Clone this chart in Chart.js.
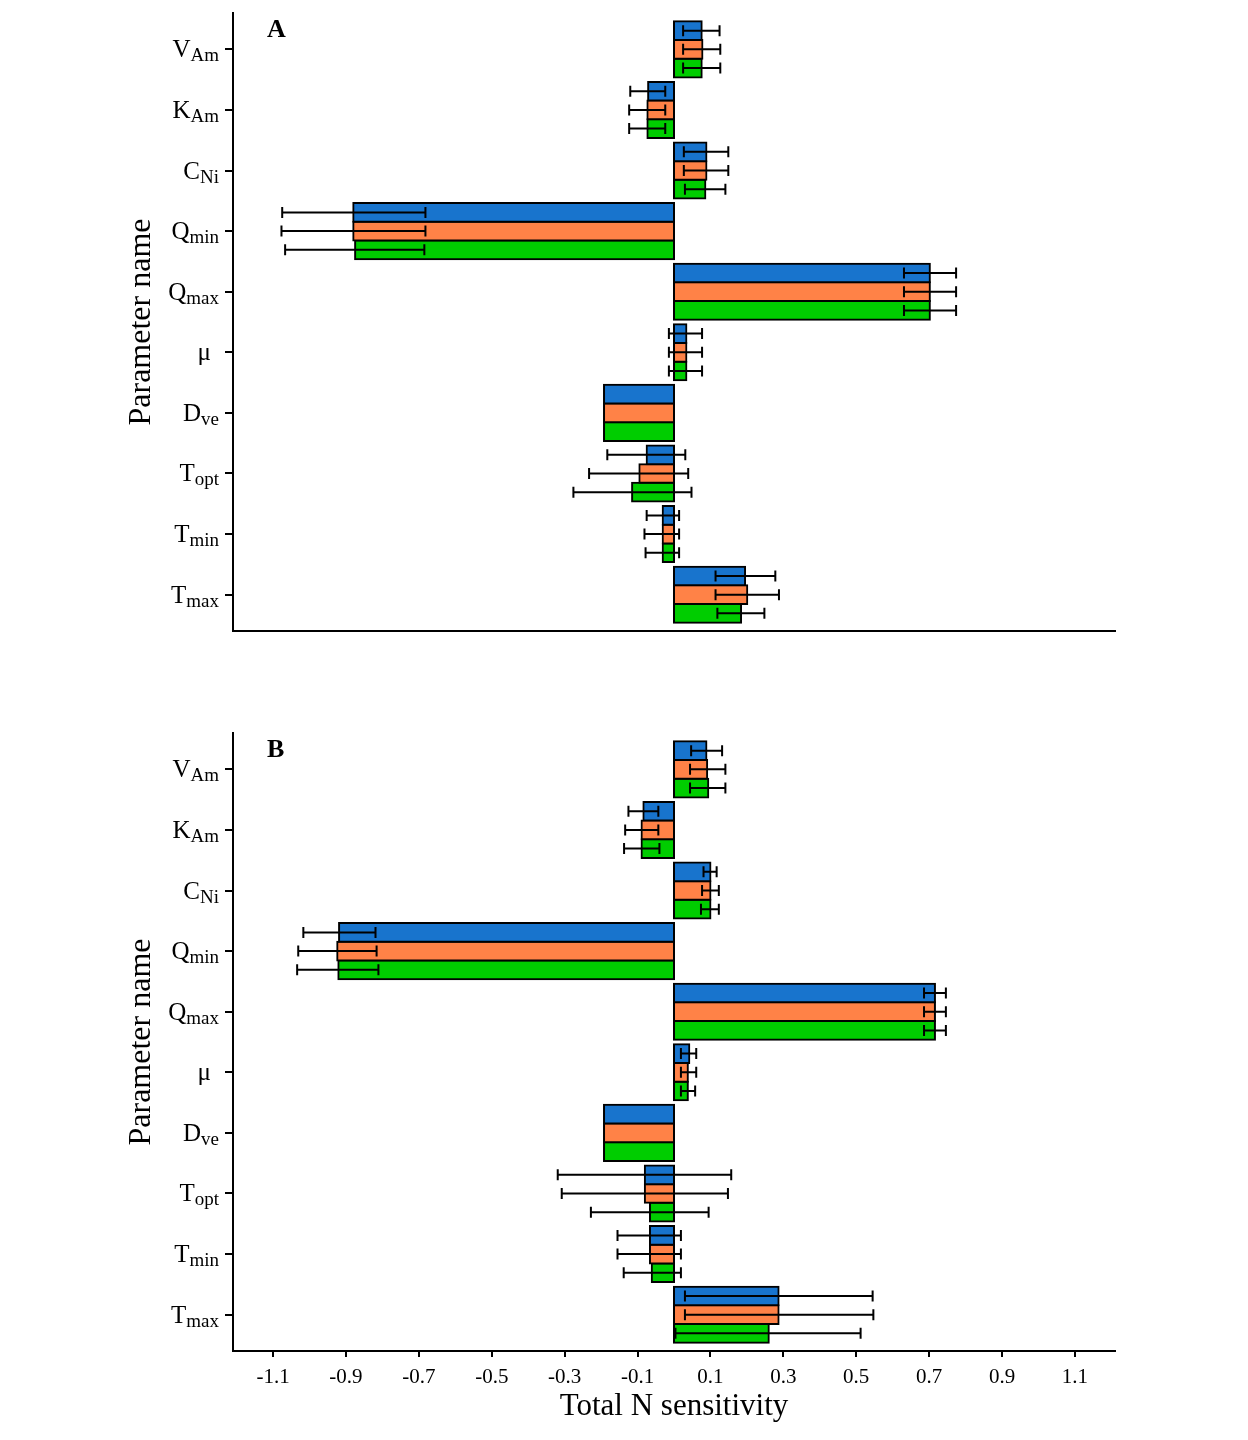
<!DOCTYPE html>
<html lang="en">
  <head>
    <title>Total N sensitivity</title>
    <style>
      body { margin: 0; background: #fff; }
      .panel { position: relative; width: 1248px; height: 720px; }
    </style>
  </head>
  <body>
    <div class="panel"><canvas id="panelA"></canvas></div>
    <div class="panel"><canvas id="panelB"></canvas></div>
    <script src="https://cdn.jsdelivr.net/npm/chart.js"></script>
    <script>
      // parameters, top to bottom: symbol + subscript
      const paramNames = ["V", "K", "C", "Q", "Q", "μ", "D", "T", "T", "T"];
      const paramSubs = ["Am", "Am", "Ni", "min", "max", "", "ve", "opt", "min", "max"];
      const xTicks = [-1.1, -0.9, -0.7, -0.5, -0.3, -0.1, 0.1, 0.3, 0.5, 0.7, 0.9, 1.1];
      const seriesLabels = ["Series 1", "Series 2", "Series 3"];

      // panel A
      const aBlue = [0.076, -0.071, 0.089, -0.880, 0.702, 0.034, -0.192, -0.075, -0.031, 0.195];
      const aBlueLo = [0.025, -0.120, 0.027, -1.075, 0.631, -0.014, null, -0.183, -0.075, 0.114];
      const aBlueHi = [0.125, -0.024, 0.149, -0.682, 0.774, 0.077, null, 0.031, 0.014, 0.278];
      const aOrange = [0.078, -0.073, 0.089, -0.880, 0.702, 0.034, -0.192, -0.095, -0.031, 0.201];
      const aOrangeLo = [0.025, -0.123, 0.027, -1.077, 0.631, -0.014, null, -0.233, -0.081, 0.114];
      const aOrangeHi = [0.127, -0.024, 0.149, -0.682, 0.774, 0.077, null, 0.039, 0.014, 0.288];
      const aGreen = [0.076, -0.073, 0.086, -0.875, 0.702, 0.034, -0.192, -0.115, -0.031, 0.184];
      const aGreenLo = [0.025, -0.123, 0.030, -1.067, 0.631, -0.014, null, -0.276, -0.078, 0.119];
      const aGreenHi = [0.127, -0.024, 0.141, -0.685, 0.774, 0.077, null, 0.048, 0.014, 0.248];

      // panel B
      const bBlue = [0.089, -0.084, 0.100, -0.919, 0.716, 0.042, -0.192, -0.080, -0.066, 0.287];
      const bBlueLo = [0.047, -0.125, 0.081, -1.017, 0.686, 0.019, null, -0.319, -0.155, 0.030];
      const bBlueHi = [0.132, -0.043, 0.117, -0.819, 0.746, 0.061, null, 0.157, 0.019, 0.545];
      const bOrange = [0.091, -0.089, 0.100, -0.924, 0.716, 0.038, -0.192, -0.080, -0.066, 0.287];
      const bOrangeLo = [0.044, -0.134, 0.077, -1.031, 0.686, 0.019, null, -0.308, -0.155, 0.030];
      const bOrangeHi = [0.141, -0.043, 0.123, -0.816, 0.746, 0.061, null, 0.148, 0.019, 0.547];
      const bGreen = [0.094, -0.089, 0.100, -0.921, 0.716, 0.038, -0.192, -0.066, -0.061, 0.260];
      const bGreenLo = [0.044, -0.137, 0.074, -1.034, 0.686, 0.019, null, -0.228, -0.138, 0.004];
      const bGreenHi = [0.141, -0.040, 0.123, -0.811, 0.746, 0.058, null, 0.095, 0.019, 0.512];

      const colors = ["#1874CD", "#FF8247", "#00CD00"];
      const serif = "'Liberation Serif', 'Times New Roman', serif";

      Chart.defaults.font.family = serif;
      Chart.defaults.color = "#000";
      Chart.defaults.plugins.legend.display = false;
      Chart.defaults.plugins.tooltip.enabled = false;

      let errorBars = {
        id: "errorBars",
        afterDatasetsDraw(chart) {
          let ctx = chart.ctx;
          let xs = chart.scales.x;
          ctx.save();
          ctx.strokeStyle = "#000";
          ctx.lineWidth = 2;
          chart.data.datasets.forEach(function (ds, d) {
            chart.getDatasetMeta(d).data.forEach(function (bar, i) {
              let pt = ds.data[i];
              if (pt.lo == null) return;
              let x0 = xs.getPixelForValue(pt.lo);
              let x1 = xs.getPixelForValue(pt.hi);
              let y = bar.y;
              ctx.beginPath();
              ctx.moveTo(x0, y);
              ctx.lineTo(x1, y);
              ctx.moveTo(x0, y - 5.5);
              ctx.lineTo(x0, y + 5.5);
              ctx.moveTo(x1, y - 5.5);
              ctx.lineTo(x1, y + 5.5);
              ctx.stroke();
            });
          });
          ctx.restore();
        },
      };

      // y labels with subscripts + panel letter
      let paramLabels = {
        id: "paramLabels",
        afterDraw(chart, args, opts) {
          let ctx = chart.ctx;
          let ys = chart.scales.y;
          let area = chart.chartArea;
          ctx.save();
          ctx.fillStyle = "#000";
          ctx.textBaseline = "alphabetic";
          ctx.textAlign = "right";
          paramNames.forEach(function (name, i) {
            let py = ys.getPixelForValue(i);
            let sub = paramSubs[i];
            let right = area.left - 14;
            if (sub) {
              ctx.font = "19px " + serif;
              ctx.fillText(sub, right, py + 12);
              right -= ctx.measureText(sub).width;
            } else {
              right -= 8;
            }
            ctx.font = "25px " + serif;
            ctx.fillText(name, right, py + 8);
          });
          ctx.textAlign = "left";
          ctx.font = "bold 26px " + serif;
          ctx.fillText(opts.letter, area.left + 34, 37);
          ctx.restore();
        },
      };

      let makeDatasets = function (values, lows, highs) {
        return values.map(function (vals, s) {
          return {
            label: seriesLabels[s],
            data: vals.map(function (v, i) {
              return { x: v, y: i, lo: lows[s][i], hi: highs[s][i] };
            }),
            backgroundColor: colors[s],
            borderColor: "#000",
            borderWidth: 2,
            borderSkipped: false,
            inflateAmount: 1,
            categoryPercentage: 0.925,
            barPercentage: 1,
          };
        });
      };

      let makeChart = function (id, letter, datasets, showX) {
        new Chart(document.getElementById(id), {
          type: "bar",
          data: { datasets: datasets },
          options: {
            indexAxis: "y",
            responsive: true,
            maintainAspectRatio: false,
            animation: false,
            layout: { padding: { left: 0, top: 13, right: 133, bottom: 0 } },
            scales: {
              x: {
                type: "linear",
                min: -1.21,
                max: 1.21,
                afterBuildTicks: function (scale) {
                  scale.ticks = xTicks.map((v) => ({ value: v }));
                },
                afterFit: function (scale) {
                  scale.height = 89;
                },
                ticks: {
                  display: showX,
                  autoSkip: false,
                  maxRotation: 0,
                  padding: 8,
                  font: { size: 21 },
                  callback: (v) => v.toFixed(1),
                },
                grid: {
                  display: showX,
                  drawOnChartArea: false,
                  color: "#000",
                  lineWidth: 2,
                  tickLength: 6,
                },
                border: { display: true, color: "#000", width: 2 },
                title: {
                  display: showX,
                  text: "Total N sensitivity",
                  font: { size: 31 },
                  padding: { top: 0, bottom: 15 },
                },
              },
              y: {
                type: "linear",
                reverse: true,
                offset: false,
                min: -0.6,
                max: 9.6,
                afterBuildTicks: function (scale) {
                  scale.ticks = paramNames.map((n, i) => ({ value: i }));
                },
                afterFit: function (scale) {
                  scale.width = 233;
                },
                ticks: { display: false },
                grid: {
                  offset: false,
                  drawOnChartArea: false,
                  color: "#000",
                  lineWidth: 2,
                  tickLength: 8,
                },
                border: { display: true, color: "#000", width: 2 },
                title: {
                  display: true,
                  text: "Parameter name",
                  font: { size: 32 },
                  padding: { top: 122, bottom: 0 },
                },
              },
            },
            plugins: { paramLabels: { letter: letter } },
          },
          plugins: [errorBars, paramLabels],
        });
      };

      makeChart(
        "panelA",
        "A",
        makeDatasets([aBlue, aOrange, aGreen], [aBlueLo, aOrangeLo, aGreenLo], [aBlueHi, aOrangeHi, aGreenHi]),
        false
      );
      makeChart(
        "panelB",
        "B",
        makeDatasets([bBlue, bOrange, bGreen], [bBlueLo, bOrangeLo, bGreenLo], [bBlueHi, bOrangeHi, bGreenHi]),
        true
      );
    </script>
  </body>
</html>
